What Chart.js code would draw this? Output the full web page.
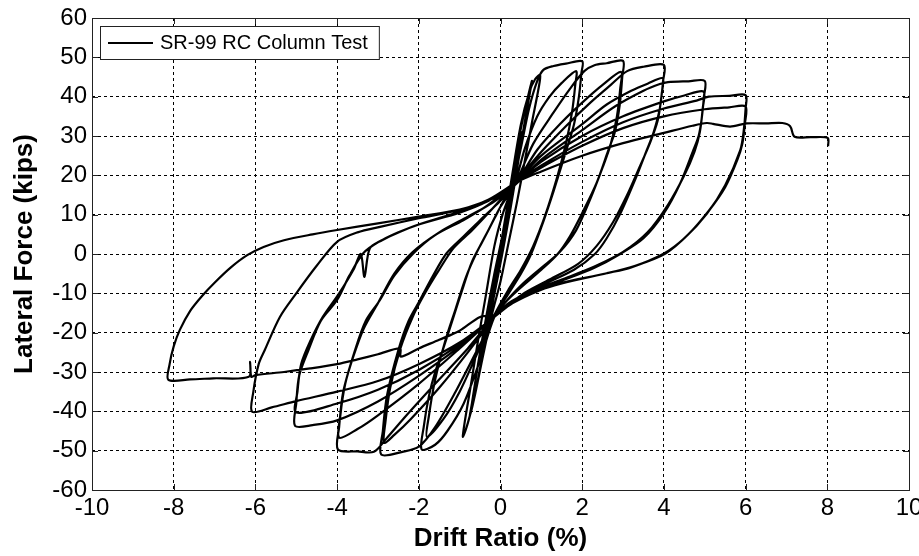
<!DOCTYPE html>
<html>
<head>
<meta charset="utf-8">
<script src="https://cdn.jsdelivr.net/npm/chart.js@4.4.1/dist/chart.umd.min.js"></script>
<style>
  html, body { margin: 0; padding: 0; background: #fff; }
</style>
</head>
<body>
<canvas id="myChart" width="919" height="556"></canvas>
<script>
// Tick values for both axes
const driftTicks = [-10, -8, -6, -4, -2, 0, 2, 4, 6, 8, 10];
const forceTicks = [-60, -50, -40, -30, -20, -10, 0, 10, 20, 30, 40, 50, 60];

// Measured [drift %, force kips] history, split by amplitude group.
// Small cycles up to +/-1 %
const cyclesSmall = [
    [0, 0], [0.1, 6], [0.25, 16], [0.2, 13], [0.08, 5], [-0.05, -3], [-0.25, -14], [-0.2, -11], [-0.08, -4], [0.05, 3],
    [0.3, 19], [0.5, 31], [0.46, 28], [0.3, 18], [0.1, 5], [-0.1, -6], [-0.3, -18], [-0.5, -28], [-0.46, -25], [-0.3, -15], [-0.1, -4], [0.1, 7],
    [0.3, 20], [0.5, 32], [0.65, 39], [0.77, 44], [0.72, 41], [0.55, 31], [0.35, 18], [0.15, 6], [-0.05, -5], [-0.3, -18], [-0.5, -29], [-0.65, -37], [-0.75, -41], [-0.7, -38], [-0.55, -28], [-0.35, -16], [-0.15, -5], [0.05, 5],
    [0.3, 21], [0.5, 33], [0.7, 41], [0.85, 44.5], [0.97, 45.5], [0.93, 42], [0.78, 34], [0.6, 24], [0.4, 13], [0.2, 3], [0, -7], [-0.2, -15], [-0.45, -27], [-0.65, -37], [-0.8, -43], [-0.92, -46.5],
    [-0.88, -43], [-0.72, -33], [-0.55, -22], [-0.35, -10], [-0.15, 2], [0.05, 10], [0.3, 17.5]
];
// +/-2 %
const cycles2 = [
    [0.5, 27], [0.7, 37], [0.9, 44], [1.05, 46.8], [1.3, 47.8], [1.6, 48.4], [2.0, 49],
    [1.98, 46], [1.92, 40], [1.8, 33], [1.6, 26], [1.3, 16], [1.04, 8], [0.75, 0], [0.5, -5], [0.2, -10], [-0.15, -16],
    [-0.5, -27], [-0.9, -38], [-1.3, -45], [-1.6, -48.5], [-1.93, -49.7],
    [-1.88, -44], [-1.75, -36], [-1.6, -30], [-1.4, -24], [-1.15, -16], [-0.91, -8.3], [-0.7, -2], [-0.45, 3], [-0.15, 9], [0.1, 14], [0.35, 18],
    [0.6, 27], [0.9, 35], [1.2, 40], [1.5, 43.5], [1.85, 46.5],
    [1.83, 43], [1.75, 36], [1.6, 28], [1.4, 20], [1.1, 10], [0.8, 2], [0.5, -4], [0.2, -9], [-0.15, -15.5],
    [-0.6, -26], [-1.0, -35], [-1.4, -42], [-1.8, -46.5],
    [-1.75, -41], [-1.6, -32], [-1.35, -22], [-1.1, -14], [-0.85, -6], [-0.6, 0], [-0.3, 6], [0, 12], [0.35, 17.5]
];
// +/-3 %
const cycles3 = [
    [0.8, 28], [1.3, 36], [1.7, 42], [2.05, 46.5], [2.3, 48], [2.6, 48.5], [3.0, 49.1],
    [2.98, 45], [2.92, 38], [2.8, 31], [2.64, 26.4], [2.35, 18], [1.99, 10.2], [1.7, 4.5], [1.4, 0], [1.0, -4], [0.5, -8.5], [0.1, -12.5], [-0.15, -16],
    [-0.6, -25], [-1.1, -35], [-1.6, -44], [-2.0, -49], [-2.4, -50.3], [-2.92, -51],
    [-2.88, -45], [-2.78, -36], [-2.5, -24.4], [-2.25, -17], [-1.97, -11.7], [-1.65, -5.5], [-1.32, 0.2], [-0.9, 4.5], [-0.5, 8.6], [-0.1, 12.5], [0.35, 17.5],
    [0.9, 26.5], [1.5, 33.5], [2.0, 38.5], [2.5, 43], [2.95, 46.3],
    [2.93, 42], [2.85, 35], [2.7, 28], [2.5, 22], [2.2, 14], [1.85, 6], [1.45, 0.5], [1.0, -3.5], [0.5, -8], [0.1, -12.5], [-0.15, -16],
    [-0.8, -25], [-1.5, -34], [-2.2, -42], [-2.6, -46], [-2.85, -48],
    [-2.82, -43], [-2.7, -34], [-2.45, -24], [-2.15, -16], [-1.85, -10], [-1.5, -4], [-1.15, 1.5], [-0.7, 6], [-0.2, 11.5], [0.35, 18]
];
// +/-4 %
const cycles4 = [
    [1, 26], [1.6, 32.5], [2.2, 38.5], [2.7, 43], [3.1, 46.5], [3.5, 47.6], [4.0, 48.1],
    [3.98, 44], [3.9, 37], [3.75, 31], [3.58, 26.4], [3.3, 19], [2.93, 10.2], [2.6, 4], [2.31, 0], [1.8, -4], [1.0, -8], [0.3, -12], [-0.15, -16],
    [-0.8, -24], [-1.6, -33], [-2.3, -41], [-2.8, -47], [-3.1, -50.3], [-3.5, -50.2], [-3.98, -49.7],
    [-3.95, -44], [-3.85, -35], [-3.56, -24.4], [-3.3, -17], [-2.95, -11.7], [-2.6, -5.5], [-2.13, 0.2], [-1.6, 4.8], [-0.91, 8.6], [-0.3, 12.5], [0.35, 18],
    [1, 25], [2, 33], [2.6, 38], [3.2, 41.5], [3.6, 43.3], [3.97, 44.7],
    [3.95, 41], [3.85, 34], [3.65, 28], [3.4, 22], [3.1, 15], [2.75, 8], [2.35, 2], [1.9, -2.5], [1.2, -6.5], [0.5, -10.5], [-0.15, -16],
    [-1, -24], [-2, -33], [-3, -41], [-3.5, -44.5], [-3.95, -46.7],
    [-3.92, -41], [-3.8, -33], [-3.6, -26], [-3.35, -19], [-3.0, -12.5], [-2.6, -5], [-2.15, 0.5], [-1.5, 5.5], [-0.8, 9.5], [-0.2, 13], [0.35, 17.5]
];
// +/-5 %
const cycles5 = [
    [1, 24], [2, 31.5], [2.8, 37.5], [3.5, 41.5], [3.9, 43.2], [4.1, 43.7], [4.6, 43.9], [5.0, 44],
    [4.98, 40], [4.92, 34], [4.85, 30], [4.72, 26.4], [4.4, 18], [3.99, 10.2], [3.5, 4], [2.93, 0], [2.3, -3.5], [1.5, -6.8], [0.8, -9.5], [0.2, -12.5], [-0.15, -16],
    [-1, -23.5], [-2, -31], [-3, -37.5], [-4, -42.3], [-4.6, -43.5], [-5.03, -43.7],
    [-5.0, -38], [-4.93, -31], [-4.7, -24.4], [-4.4, -17], [-4.0, -11.7], [-3.7, -5.5], [-3.36, 0.2], [-3.0, 3], [-2.54, 5.3], [-2, 7.5], [-1, 10.5], [-0.3, 13.5], [0.35, 18],
    [1, 23.5], [2, 30], [3, 35], [4, 38.8], [4.5, 40.3], [4.97, 41.3],
    [4.95, 37], [4.88, 31], [4.75, 26], [4.5, 20], [4.1, 12.5], [3.6, 5.5], [3.0, 0.5], [2.3, -3.2], [1.5, -6.5], [0.8, -9.3], [0.2, -12.5], [-0.15, -16],
    [-1, -23], [-2, -29.5], [-3, -34.5], [-4, -38], [-5, -40.3],
    [-4.97, -35], [-4.88, -28], [-4.65, -22], [-4.35, -16], [-3.95, -10], [-3.6, -4], [-3.42, 0], [-3.33, -5.8], [-3.2, 1.4], [-2.9, 3.5], [-2.5, 5.5], [-2, 7.5], [-1, 10.8], [-0.3, 13.5], [0.35, 18]
];
// +/-6 %
const cycles6 = [
    [1, 22.5], [2, 28.5], [3, 33.5], [4, 37], [4.8, 39], [5.1, 40], [5.6, 40.2], [6.0, 40.4],
    [6.0, 37], [5.95, 31], [5.87, 26.4], [5.5, 17.5], [5.05, 10.2], [4.5, 4], [3.98, 0], [3.2, -3.4], [2.6, -4.9], [1.5, -7.5], [0.97, -9.2], [0.3, -12.5], [-0.15, -16],
    [-1, -22.5], [-2, -28], [-3, -32.3], [-4, -35], [-5, -37.4], [-5.6, -39], [-6.08, -40.1],
    [-6.05, -35], [-5.92, -28], [-5.77, -24.4], [-5.4, -16], [-5.0, -10], [-4.5, -3], [-4.0, 3.1], [-3.5, 5.5], [-2.95, 6.9], [-2, 9.1], [-1, 11.2], [-0.3, 13.8], [0.35, 18],
    [1, 22], [2, 27.5], [3, 32], [4, 35], [5, 36.8], [5.6, 37.3], [6.0, 37.5],
    [5.98, 33], [5.92, 28], [5.8, 24], [5.5, 17], [5.1, 11], [4.6, 5], [4.05, 0.2], [3.3, -3], [2.6, -4.9], [1.5, -7.3], [0.97, -9], [0.3, -12.3], [-0.15, -15.5]
];
// Last push to -8 % and +8 %
const cyclesFinal = [
    [-0.5, -16], [-1.0, -19.5], [-1.5, -21.8], [-2.0, -24], [-2.44, -26.1], [-2.46, -24], [-3.0, -25.5], [-3.5, -26.8], [-4.0, -28],
    [-4.66, -29.1], [-5.3, -30], [-6.0, -30.8], [-6.1, -31.2], [-6.13, -27.4], [-6.16, -31.2], [-7.03, -31.6], [-7.6, -31.9], [-8.13, -32],
    [-8.1, -28], [-8.0, -23.5], [-7.85, -19.3], [-7.6, -14.5], [-7.3, -10.6], [-7.0, -7.3], [-6.6, -3.4], [-6.2, -0.3],
    [-5.8, 1.8], [-5.3, 3.5], [-4.6, 5], [-4.0, 6.1], [-3, 7.8], [-2.0, 9.5], [-1, 11.3], [-0.5, 12.9], [0, 15], [0.35, 18],
    [1, 21], [2, 25], [3, 28.2], [4, 30.8], [4.7, 32.6], [5.05, 33.3], [5.2, 33.1], [5.62, 32.4], [6.03, 33.2], [6.5, 33.2],
    [6.9, 33.3], [7.09, 32.5], [7.2, 29.8], [7.6, 29.7], [8.01, 29.5], [8.02, 27.4]
];

const seriesName = "SR-99 RC Column Test";
const FONT = "'Liberation Sans', Arial, Helvetica, sans-serif";

let history = [].concat(cyclesSmall, cycles2, cycles3, cycles4, cycles5, cycles6, cyclesFinal)
    .map(function(p) { return {x: p[0], y: p[1]}; });

// Box around the plot plus inward tick marks on every side
const frameTicks = {
    id: 'frameTicks',
    afterDraw: function(chart) {
        const ctx = chart.ctx;
        const a = chart.chartArea;
        const xs = chart.scales.x, ys = chart.scales.y;
        const len = 6;
        ctx.save();
        ctx.strokeStyle = '#222';
        ctx.lineWidth = 1;
        ctx.setLineDash([]);
        ctx.beginPath();
        driftTicks.forEach(function(v) {
            const px = Math.round(xs.getPixelForValue(v)) + 0.5;
            ctx.moveTo(px, a.bottom); ctx.lineTo(px, a.bottom - len);
            ctx.moveTo(px, a.top); ctx.lineTo(px, a.top + len);
        });
        forceTicks.forEach(function(v) {
            const py = Math.round(ys.getPixelForValue(v)) + 0.5;
            ctx.moveTo(a.left, py); ctx.lineTo(a.left + len, py);
            ctx.moveTo(a.right, py); ctx.lineTo(a.right - len, py);
        });
        ctx.stroke();
        ctx.strokeRect(Math.round(a.left) + 0.5, Math.round(a.top) + 0.5,
                       Math.round(a.right - a.left), Math.round(a.bottom - a.top));
        ctx.restore();
    }
};

// Legend drawn as a framed box in the top-left corner of the plot
const boxLegend = {
    id: 'boxLegend',
    afterDraw: function(chart) {
        const ctx = chart.ctx;
        const a = chart.chartArea;
        const left = a.left + 8, top = a.top + 8, h = 33;
        ctx.save();
        ctx.font = '20px ' + FONT;
        const textX = left + 60;
        const w = textX - left + ctx.measureText(seriesName).width + 11;
        ctx.fillStyle = '#fff';
        ctx.fillRect(left, top, w, h);
        ctx.strokeStyle = '#222';
        ctx.lineWidth = 1;
        ctx.strokeRect(left + 0.5, top + 0.5, w, h);
        ctx.strokeStyle = '#000';
        ctx.lineWidth = 2;
        ctx.beginPath();
        ctx.moveTo(left + 8, top + h / 2 + 0.5);
        ctx.lineTo(left + 53, top + h / 2 + 0.5);
        ctx.stroke();
        ctx.fillStyle = '#000';
        ctx.textBaseline = 'middle';
        ctx.fillText(seriesName, textX, top + h / 2 + 1);
        ctx.restore();
    }
};

const ctx = document.getElementById('myChart');
const myChart = new Chart(ctx, {
    type: 'scatter',
    data: {
        datasets: [{
            label: seriesName,
            data: history,
            showLine: true,
            borderColor: '#000',
            borderWidth: 2.2,
            pointRadius: 0,
            tension: 0.3,
            fill: false
        }]
    },
    options: {
        responsive: false,
        animation: false,
        devicePixelRatio: 1,
        layout: { padding: { top: 18, right: 10, left: 0, bottom: 0 } },
        plugins: {
            legend: { display: false },
            tooltip: { enabled: false }
        },
        scales: {
            x: {
                type: 'linear',
                min: -10,
                max: 10,
                afterBuildTicks: function(scale) {
                    scale.ticks = driftTicks.map(function(v) { return {value: v}; });
                },
                afterFit: function(scale) {
                    scale.height = 66;
                    scale.paddingLeft = 0;
                    scale.paddingRight = 0;
                },
                ticks: {
                    color: '#000',
                    font: { family: FONT, size: 24 },
                    padding: 4,
                    maxRotation: 0,
                    autoSkip: false
                },
                grid: { color: '#000', lineWidth: 1, drawTicks: false },
                border: { display: false, dash: [3, 3] },
                title: {
                    display: true,
                    text: 'Drift Ratio (%)',
                    color: '#000',
                    font: { family: FONT, size: 26, weight: 'bold' },
                    padding: { top: 0, bottom: 2 }
                }
            },
            y: {
                type: 'linear',
                min: -60,
                max: 60,
                afterBuildTicks: function(scale) {
                    scale.ticks = forceTicks.map(function(v) { return {value: v}; });
                },
                afterFit: function(scale) {
                    scale.width = 92;
                    scale.paddingTop = 0;
                    scale.paddingBottom = 0;
                },
                ticks: {
                    color: '#000',
                    font: { family: FONT, size: 24 },
                    padding: 5,
                    autoSkip: false
                },
                grid: { color: '#000', lineWidth: 1, drawTicks: false },
                border: { display: false, dash: [3, 3] },
                title: {
                    display: true,
                    text: 'Lateral Force (kips)',
                    color: '#000',
                    font: { family: FONT, size: 26, weight: 'bold' },
                    padding: { top: 9, bottom: 0 }
                }
            }
        }
    },
    plugins: [frameTicks, boxLegend]
});
</script>
</body>
</html>
